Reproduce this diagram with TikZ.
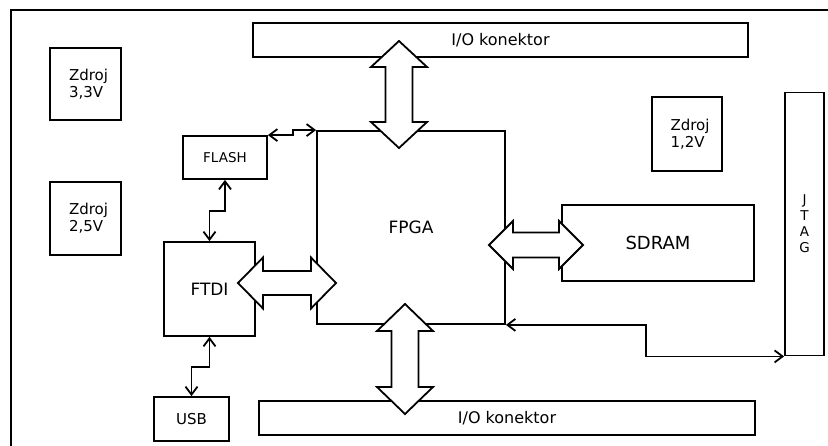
\documentclass[tikz,border=0pt]{standalone}
\usepackage{fontspec}
\setmainfont{DejaVu Sans}
\usetikzlibrary{arrows.meta}

\tikzset{
  ln/.style={line width=1.8pt},
  blk/.style={ln, draw, rectangle, inner sep=0pt, align=center},
  conn/.style={ln, {Straight Barb[length=8pt,width=12pt]}-{Straight Barb[length=8pt,width=12pt]}},
  fatline/.style={ln, draw, fill=white, line join=miter},
  pics/fatarrow/.style n args={4}{code={
    % #1 length, #2 head half width, #3 shaft half width, #4 head length
    \path[fatline] (0,0) -- (#2,#4) -- (#3,#4) -- (#3,#1-#4) -- (#2,#1-#4)
      -- (0,#1) -- (-#2,#1-#4) -- (-#3,#1-#4) -- (-#3,#4) -- (-#2,#4) -- cycle;
  }},
}

\begin{document}
\begin{tikzpicture}[x=1pt,y=-1pt]
\useasboundingbox (0,0) rectangle (828,445);

% board outline
\draw[ln] (11,450) -- (11,10) -- (840,10);

% blocks
\node[blk, minimum width=495, minimum height=34, font=\fontsize{16}{19}\selectfont]
  (io1) at (500.5,40) {I/O konektor};
\node[blk, minimum width=496, minimum height=34, font=\fontsize{16}{19}\selectfont]
  (io2) at (507,418) {I/O konektor};
\node[blk, minimum width=71, minimum height=72, align=left, font=\fontsize{15}{17}\selectfont]
  (zd33) at (85.5,84) {\hspace*{6pt}Zdroj\\\hspace*{6pt}3,3V};
\node[blk, minimum width=71, minimum height=73, align=left, font=\fontsize{15}{17}\selectfont]
  (zd25) at (85.5,218.5) {\hspace*{6pt}Zdroj\\\hspace*{6pt}2,5V};
\node[blk, minimum width=70, minimum height=74, align=left, font=\fontsize{15}{17}\selectfont]
  (zd12) at (687,134) {\hspace*{6pt}Zdroj\\\hspace*{6pt}1,2V};
\node[blk, minimum width=39, minimum height=263, font=\fontsize{13.5}{16}\selectfont]
  (jtag) at (804.5,224) {J\\T\\A\\G};
\node[blk, minimum width=188, minimum height=193, font=\fontsize{17}{20}\selectfont]
  (fpga) at (411,227.5) {FPGA};
\node[blk, minimum width=84, minimum height=43, font=\fontsize{13.5}{16}\selectfont]
  (flash) at (225,157.5) {FLASH};
\node[blk, minimum width=91, minimum height=94, font=\fontsize{17}{20}\selectfont]
  (ftdi) at (209.5,289) {FTDI};
\node[blk, minimum width=75, minimum height=44, font=\fontsize{15}{18}\selectfont]
  (usb) at (191.5,419) {USB};
\node[blk, minimum width=192, minimum height=76, font=\fontsize{18}{21}\selectfont]
  (sdram) at (658,243) {SDRAM};

% signal lines
\draw[conn] (flash.north east) -- ++(25,0) |- (fpga.north west);
\draw[conn] (flash.south) -- ++(0,31) -| (ftdi.north);
\draw[conn] (ftdi.south) -- ++(0,30) -| (usb.north);
\draw[conn] (fpga.south east) -- ++(140,0) |- (jtag.south west);

% buses
\pic at (399,41) {fatarrow={107}{28}{13.5}{26}};
\pic at (405,304) {fatarrow={110}{28}{13.5}{27}};
\pic[rotate=90] at (489,245) {fatarrow={94}{24}{12.5}{24}};
\pic[rotate=90] at (238,283) {fatarrow={98}{25.5}{12}{25}};
\end{tikzpicture}
\end{document}
